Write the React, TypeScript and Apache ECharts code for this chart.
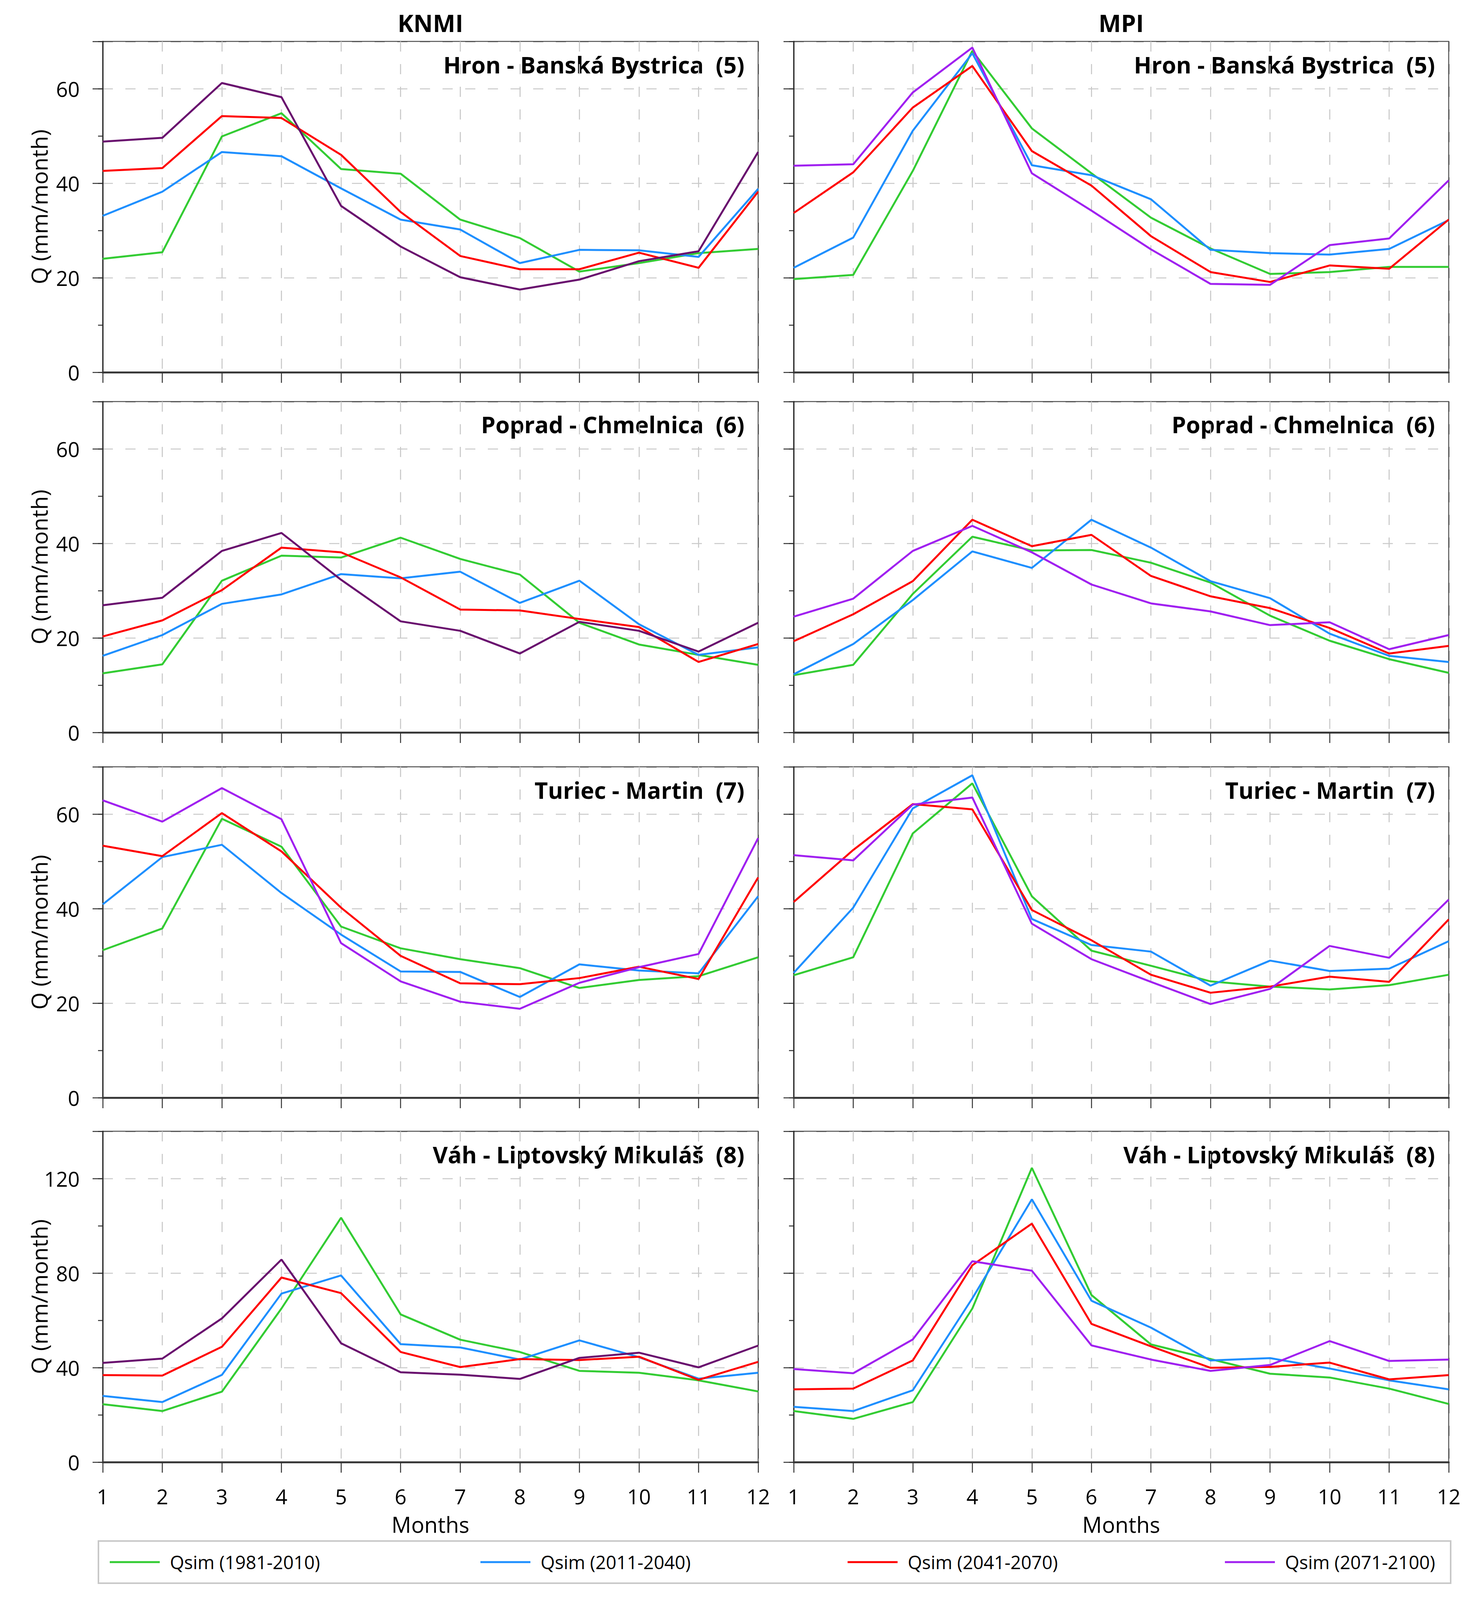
import React, { useEffect, useRef } from 'react';
import * as echarts from 'echarts';

// ---------- data ----------
const months = ['1', '2', '3', '4', '5', '6', '7', '8', '9', '10', '11', '12'];
const seriesNames = ['Qsim (1981-2010)', 'Qsim (2011-2040)', 'Qsim (2041-2070)', 'Qsim (2071-2100)'];
const columnTitles = ['KNMI', 'MPI'];
const stationTitles = [
  'Hron - Banská Bystrica  (5)',
  'Poprad - Chmelnica  (6)',
  'Turiec - Martin  (7)',
  'Váh - Liptovský Mikuláš  (8)',
];
const yMaxByRow = [70, 70, 70, 140];
const yTickStepByRow = [10, 10, 10, 20];
const yLabelStepByRow = [20, 20, 20, 40];

// Hron - Banská Bystrica (5)
const hronKnmi1981 = [24.0, 25.4, 49.9, 54.8, 43.0, 42.0, 32.3, 28.4, 21.3, 23.1, 25.2, 26.1];
const hronKnmi2011 = [33.1, 38.2, 46.6, 45.7, 38.9, 32.3, 30.2, 23.1, 25.9, 25.8, 24.4, 38.8];
const hronKnmi2041 = [42.6, 43.2, 54.2, 53.8, 46.0, 33.9, 24.6, 21.8, 21.8, 25.3, 22.1, 38.2];
const hronKnmi2071 = [48.8, 49.6, 61.2, 58.2, 35.2, 26.6, 20.1, 17.5, 19.6, 23.5, 25.6, 46.6];
const hronMpi1981 = [19.7, 20.6, 42.6, 68.0, 51.6, 42.1, 32.7, 26.2, 20.8, 21.2, 22.3, 22.3];
const hronMpi2011 = [22.1, 28.5, 51.1, 67.5, 43.8, 41.7, 36.6, 25.9, 25.2, 24.9, 26.1, 32.2];
const hronMpi2041 = [33.7, 42.3, 56.0, 64.8, 46.8, 39.5, 28.8, 21.2, 19.1, 22.6, 21.9, 32.3];
const hronMpi2071 = [43.7, 44.0, 59.2, 68.7, 42.1, 34.2, 26.0, 18.7, 18.5, 26.9, 28.3, 40.6];

// Poprad - Chmelnica (6)
const popradKnmi1981 = [12.5, 14.4, 32.1, 37.4, 37.0, 41.2, 36.7, 33.4, 23.2, 18.6, 16.4, 14.3];
const popradKnmi2011 = [16.2, 20.6, 27.2, 29.2, 33.5, 32.6, 34.0, 27.4, 32.1, 22.9, 16.4, 18.0];
const popradKnmi2041 = [20.3, 23.7, 30.1, 39.1, 38.1, 32.8, 26.0, 25.8, 24.0, 22.3, 14.9, 18.7];
const popradKnmi2071 = [26.9, 28.5, 38.4, 42.2, 32.3, 23.5, 21.5, 16.7, 23.4, 21.5, 17.1, 23.2];
const popradMpi1981 = [12.1, 14.3, 29.3, 41.4, 38.5, 38.6, 35.9, 31.7, 24.7, 19.4, 15.5, 12.6];
const popradMpi2011 = [12.3, 18.7, 28.0, 38.3, 34.8, 45.0, 39.1, 32.0, 28.4, 20.9, 16.2, 14.9];
const popradMpi2041 = [19.3, 25.0, 32.0, 45.0, 39.4, 41.8, 33.1, 28.8, 26.3, 22.1, 16.7, 18.3];
const popradMpi2071 = [24.5, 28.3, 38.4, 43.7, 38.1, 31.3, 27.3, 25.6, 22.7, 23.3, 17.6, 20.6];

// Turiec - Martin (7)
const turiecKnmi1981 = [31.2, 35.8, 59.0, 53.1, 36.2, 31.6, 29.3, 27.4, 23.2, 24.9, 25.7, 29.7];
const turiecKnmi2011 = [40.9, 50.9, 53.5, 43.3, 34.5, 26.7, 26.6, 21.3, 28.2, 26.9, 26.3, 42.6];
const turiecKnmi2041 = [53.3, 51.1, 60.2, 52.1, 40.2, 30.0, 24.2, 24.0, 25.3, 27.7, 25.1, 46.6];
const turiecKnmi2071 = [62.9, 58.4, 65.5, 58.9, 32.7, 24.6, 20.3, 18.8, 24.3, 27.6, 30.4, 54.9];
const turiecMpi1981 = [25.9, 29.7, 55.9, 66.5, 42.6, 31.1, 27.9, 24.6, 23.5, 22.9, 23.8, 26.0];
const turiecMpi2011 = [26.4, 40.2, 61.2, 68.2, 37.8, 32.3, 30.9, 23.7, 29.0, 26.8, 27.3, 33.1];
const turiecMpi2041 = [41.4, 52.4, 62.1, 61.0, 39.7, 33.3, 26.0, 22.2, 23.5, 25.6, 24.5, 37.7];
const turiecMpi2071 = [51.3, 50.2, 62.0, 63.5, 36.8, 29.3, 24.5, 19.8, 23.0, 32.1, 29.6, 41.9];

// Váh - Liptovský Mikuláš (8)
const vahKnmi1981 = [24.5, 21.6, 29.8, 65.0, 103.4, 62.5, 51.8, 46.6, 38.6, 37.8, 34.6, 29.9];
const vahKnmi2011 = [28.0, 25.4, 36.9, 71.3, 79.0, 49.9, 48.5, 43.4, 51.5, 44.4, 35.3, 37.8];
const vahKnmi2041 = [36.8, 36.6, 48.8, 78.1, 71.5, 46.6, 40.2, 43.6, 43.2, 44.6, 34.8, 42.4];
const vahKnmi2071 = [42.0, 43.8, 60.8, 85.7, 50.3, 38.0, 37.0, 35.2, 44.1, 46.3, 40.1, 49.3];
const vahMpi1981 = [21.6, 18.3, 25.4, 65.0, 124.5, 70.7, 49.8, 43.6, 37.4, 35.8, 31.1, 24.6];
const vahMpi2011 = [23.4, 21.6, 30.4, 69.3, 111.2, 68.3, 56.9, 43.0, 44.0, 39.6, 34.6, 30.8];
const vahMpi2041 = [30.8, 31.1, 43.0, 83.3, 100.9, 58.5, 49.0, 39.9, 40.3, 42.1, 35.0, 36.8];
const vahMpi2071 = [39.4, 37.6, 51.9, 85.0, 81.0, 49.4, 43.4, 38.6, 41.1, 51.2, 42.8, 43.4];

// ---------- styles / layout ----------
const GREEN = '#33cc33';
const BLUE = '#1e8fff';
const RED = '#ff0000';
const DARK_PURPLE = '#690f6e';
const VIOLET = '#a020f0';
const FONT = '"Open Sans", "Noto Sans", sans-serif';
const TICK_FONT = 53;

const legendColors = [GREEN, BLUE, RED, VIOLET];
const legendLeft = [281, 1230, 2170, 3136];

const REF_W = 3784;
const REF_H = 4321;
const colLeft = [263, 2032];
const colWidth = [1678, 1677];
const rowTop = [112, 1084, 2071, 3055];
const plotH = 894;

const panelData = [
  [[hronKnmi1981, hronKnmi2011, hronKnmi2041, hronKnmi2071], [hronMpi1981, hronMpi2011, hronMpi2041, hronMpi2071]],
  [[popradKnmi1981, popradKnmi2011, popradKnmi2041, popradKnmi2071], [popradMpi1981, popradMpi2011, popradMpi2041, popradMpi2071]],
  [[turiecKnmi1981, turiecKnmi2011, turiecKnmi2041, turiecKnmi2071], [turiecMpi1981, turiecMpi2011, turiecMpi2041, turiecMpi2071]],
  [[vahKnmi1981, vahKnmi2011, vahKnmi2041, vahKnmi2071], [vahMpi1981, vahMpi2011, vahMpi2041, vahMpi2071]],
];
const panelColors = [
  [[GREEN, BLUE, RED, DARK_PURPLE], [GREEN, BLUE, RED, VIOLET]],
  [[GREEN, BLUE, RED, DARK_PURPLE], [GREEN, BLUE, RED, VIOLET]],
  [[GREEN, BLUE, RED, VIOLET], [GREEN, BLUE, RED, VIOLET]],
  [[GREEN, BLUE, RED, DARK_PURPLE], [GREEN, BLUE, RED, VIOLET]],
];

const GRID_C = '#c9c9c9';
const BORDER = '#505050';
const DASH = [26, 32];

function buildOption(sy: number) {
  const Y = (v: number) => Math.round(v * sy);
  const grid: any[] = [];
  const xAxis: any[] = [];
  const yAxis: any[] = [];
  const series: any[] = [];
  const graphic: any[] = [];

  // split lines that coincide with the frame are drawn dark so the frame stays solid
  const vColors = months.map((_, i) => (i === 0 ? '#222' : i === months.length - 1 ? BORDER : GRID_C));
  const hColors = [GRID_C, GRID_C, GRID_C, GRID_C, BORDER];

  for (let r = 0; r < 4; r++) {
    for (let c = 0; c < 2; c++) {
      const k = r * 2 + c;
      grid.push({
        left: colLeft[c],
        top: Y(rowTop[r]),
        width: colWidth[c],
        height: Y(plotH),
        show: true,
        borderColor: BORDER,
        borderWidth: 2.5,
        backgroundColor: 'transparent',
      });
      xAxis.push({
        type: 'category',
        gridIndex: k,
        data: months,
        boundaryGap: false,
        axisLine: { show: true, lineStyle: { color: '#3a3a3a', width: 5 } },
        axisTick: { show: true, interval: 0, length: Y(28), lineStyle: { color: '#333', width: 2.5 } },
        axisLabel: { show: r === 3, interval: 0, margin: Y(64), fontSize: TICK_FONT, color: '#000', fontFamily: FONT },
        splitLine: { show: true, interval: 0, lineStyle: { type: DASH, color: vColors, width: 2.7 } },
        name: r === 3 ? 'Months' : '',
        nameLocation: 'middle',
        nameGap: Y(138),
        nameTextStyle: { fontSize: 56, color: '#000', fontFamily: FONT },
      });
      const max = yMaxByRow[r];
      const labStep = yLabelStepByRow[r];
      yAxis.push({
        type: 'value',
        gridIndex: k,
        position: 'left',
        min: 0,
        max,
        interval: yTickStepByRow[r],
        axisLine: { show: true, lineStyle: { color: '#222', width: 3 } },
        axisTick: { show: true, length: 12, lineStyle: { color: '#333', width: 2.5 } },
        axisLabel: { show: false },
        splitLine: { show: false },
        name: c === 0 ? 'Q (mm/month)' : '',
        nameLocation: 'middle',
        nameGap: 135,
        nameTextStyle: { fontSize: 57, color: '#000', fontFamily: FONT },
      });
      yAxis.push({
        type: 'value',
        gridIndex: k,
        position: 'left',
        min: 0,
        max,
        interval: labStep,
        axisLine: { show: false },
        axisTick: { show: true, length: 26, lineStyle: { color: '#333', width: 2.5 } },
        axisLabel: {
          show: c === 0,
          margin: 59,
          fontSize: TICK_FONT,
          color: '#000',
          fontFamily: FONT,
          formatter: (v: number) => (v % labStep === 0 ? String(v) : ''),
        },
        splitLine: { show: true, lineStyle: { type: DASH, color: hColors, width: 2.7 } },
      });
      const data = panelData[r][c];
      const colors = panelColors[r][c];
      for (let s = 0; s < 4; s++) {
        series.push({
          type: 'line',
          name: seriesNames[s],
          xAxisIndex: k,
          yAxisIndex: 2 * k,
          data: data[s],
          symbol: 'none',
          showSymbol: false,
          lineStyle: { width: 5, color: colors[s] },
          itemStyle: { color: colors[s] },
          z: 3 + s,
        });
      }
      graphic.push({
        type: 'text',
        x: colLeft[c] + colWidth[c] - 35,
        y: Y(rowTop[r] + 62),
        style: {
          text: stationTitles[r],
          font: `bold 59px ${FONT}`,
          fill: '#000',
          textAlign: 'right',
          textVerticalAlign: 'middle',
          verticalAlign: 'middle',
        },
      });
    }
  }

  for (let c = 0; c < 2; c++) {
    graphic.push({
      type: 'text',
      x: colLeft[c] + colWidth[c] / 2,
      y: Y(61),
      style: {
        text: columnTitles[c],
        font: `bold 61px ${FONT}`,
        fill: '#000',
        textAlign: 'center',
        textVerticalAlign: 'middle',
        verticalAlign: 'middle',
      },
    });
  }

  graphic.push({
    type: 'rect',
    shape: { x: 252, y: Y(4162), width: 3462, height: Y(114) },
    style: { fill: 'none', stroke: '#c8c8c8', lineWidth: 4 },
    z: 0,
  });

  const legend = seriesNames.map((n, i) => ({
    show: true,
    left: legendLeft[i],
    top: Y(4219) - 32,
    padding: 0,
    itemWidth: 128,
    itemHeight: 5,
    selectedMode: false,
    data: [{ name: n, icon: 'rect', itemStyle: { color: legendColors[i] } }],
    formatter: (name: string) => `{g| }${name}`,
    textStyle: {
      fontSize: 47,
      color: '#000',
      fontFamily: FONT,
      lineHeight: 64,
      rich: { g: { width: 21, fontSize: 47, lineHeight: 64 } },
    },
  }));

  return {
    animation: false,
    backgroundColor: '#ffffff',
    grid,
    xAxis,
    yAxis,
    series,
    legend,
    graphic,
  };
}

export default function App() {
  const ref = useRef<HTMLDivElement>(null);
  const viewH = typeof window !== 'undefined' && window.innerHeight ? Math.min(window.innerHeight, REF_H) : REF_H;
  useEffect(() => {
    document.body.style.margin = '0';
    if (!ref.current) return;
    const chart = echarts.init(ref.current, undefined, { renderer: 'svg' });
    chart.setOption(buildOption(viewH / REF_H) as any);
    return () => {
      chart.dispose();
    };
  }, []);
  return <div ref={ref} style={{ width: REF_W, height: viewH }} />;
}
